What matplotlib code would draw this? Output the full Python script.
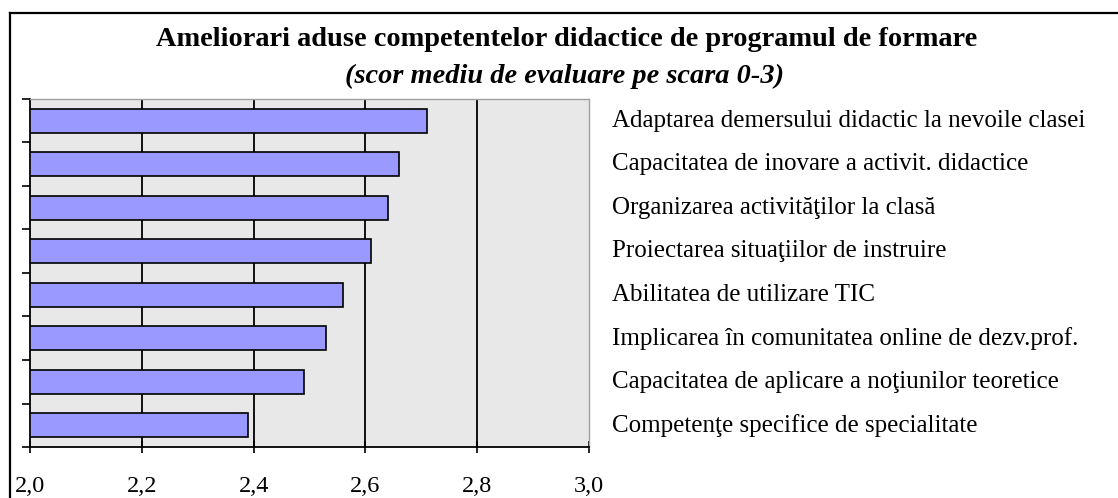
import matplotlib.pyplot as plt
from matplotlib.lines import Line2D
import numpy as np

plt.rcParams['font.family'] = ['Liberation Serif', 'DejaVu Serif']

categories = [
    'Adaptarea demersului didactic la nevoile clasei',
    'Capacitatea de inovare a activit. didactice',
    'Organizarea activităţilor la clasă',
    'Proiectarea situaţiilor de instruire',
    'Abilitatea de utilizare TIC',
    'Implicarea în comunitatea online de dezv.prof.',
    'Capacitatea de aplicare a noţiunilor teoretice',
    'Competenţe specifice de specialitate',
]
scores = [2.71, 2.66, 2.64, 2.61, 2.56, 2.53, 2.49, 2.39]
x_ticks = [2.0, 2.2, 2.4, 2.6, 2.8, 3.0]
x_labels = ['2,0', '2,2', '2,4', '2,6', '2,8', '3,0']

W, H = 1118, 498
fig = plt.figure(figsize=(W / 100, H / 100), dpi=100)
ax = fig.add_axes([30 / W, 1 - 447 / H, (589 - 30) / W, (447 - 99) / H])

y = np.arange(len(categories))
ax.set_facecolor('#e8e8e8')
for xv in x_ticks[1:-1]:
    ax.axvline(xv, color='black', lw=1.3, zorder=1)
ax.barh(y, np.array(scores) - 2.0, left=2.0, height=0.56, color='#9999ff',
        edgecolor='black', linewidth=1.2, zorder=3)

ax.set_xlim(2.0, 3.0)
ax.set_ylim(len(categories) - 0.5, -0.5)
ax.set_xticks(x_ticks)
ax.set_xticklabels(x_labels, fontsize=17.5)
ax.tick_params(axis='x', direction='inout', length=8, width=1.2, pad=17)
ax.set_yticks(np.arange(-0.5, len(categories), 1.0))
ax.set_yticklabels([])
ax.tick_params(axis='y', direction='out', length=6, width=1.2)

for s in ['left', 'bottom']:
    ax.spines[s].set_color('black')
    ax.spines[s].set_linewidth(1.3)
for s in ['top', 'right']:
    ax.spines[s].set_color('#a0a0a0')
    ax.spines[s].set_linewidth(1.0)

for yi, label in zip(y, categories):
    ax.text(1.0 + 23 / 559, yi, label, transform=ax.get_yaxis_transform(),
            ha='left', va='center', fontsize=18)

fig.text(567 / W, 1 - 39 / H,
         'Ameliorari aduse competentelor didactice de programul de formare',
         ha='center', va='center', fontsize=20.4, fontweight='bold')
fig.text(565 / W, 1 - 76 / H, '(scor mediu de evaluare pe scara 0-3)',
         ha='center', va='center', fontsize=20.4, fontweight='bold', style='italic')

# outer frame (top and left edges visible)
fig.add_artist(Line2D([10 / W, 1.0], [1 - 13 / H, 1 - 13 / H], color='black', lw=1.6,
                      transform=fig.transFigure))
fig.add_artist(Line2D([10 / W, 10 / W], [0.0, 1 - 13 / H], color='black', lw=1.6,
                      transform=fig.transFigure))

fig.savefig('out.png', dpi=100)
